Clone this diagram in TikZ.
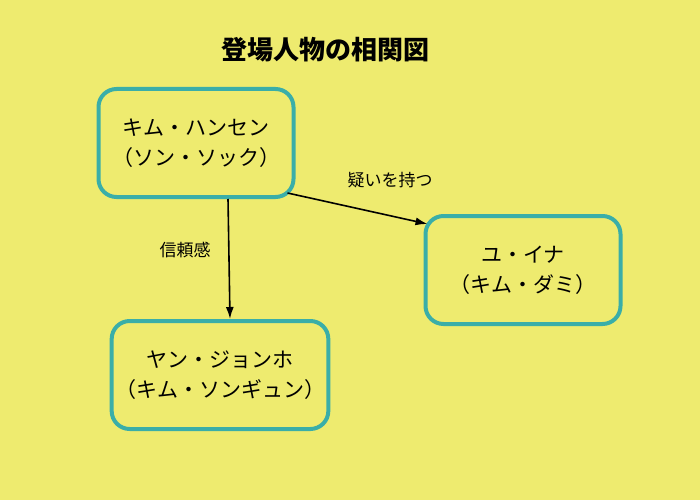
\documentclass[tikz,border=0pt]{standalone}
\usepackage{fontspec}
\setmainfont{Noto Sans CJK JP}
\usetikzlibrary{positioning,arrows.meta}
\definecolor{bgyellow}{HTML}{EEEB6F}
\definecolor{boxteal}{HTML}{3AAEA8}
\begin{document}
\begin{tikzpicture}[x=1pt,y=-1pt,
  person/.style={draw=boxteal,line width=4pt,rounded corners=18pt,minimum width=195pt,minimum height=108pt,align=center,font=\fontsize{21}{30}\selectfont},
  edge/.style={-{Latex[length=12pt,width=8pt]},line width=1.6pt},
  tag/.style={font=\fontsize{17}{19}\selectfont}]

% background
\fill[bgyellow] (0,0) rectangle (700,500);

% title
\node[font=\fontsize{26}{30}\selectfont\bfseries] (title) at (325,50) {登場人物の相関図};

% nodes
\node[person] (kim) at (196,143) {キム・ハンセン\\（ソン・ソック）};
\node[person] (yu) at (523,270) {ユ・イナ\\（キム・ダミ）};
\node[person] (yang) at (220,375) {ヤン・ジョンホ\\（キム・ソンギュン）};

% arrow ends
\coordinate (ks) at ([xshift=-8pt,yshift=6pt]kim.south east);
\coordinate (yt) at ([xshift=4pt,yshift=-10pt]yu.north west);

% relations
\draw[edge] (ks) -- (yt);
\draw[edge] ([xshift=32pt]kim.south) -- ([xshift=10pt]yang.north);

% labels
\node[tag] (doubt) at (390,180) {疑いを持つ};
\node[tag] (trust) at (185,250) {信頼感};
\end{tikzpicture}
\end{document}
